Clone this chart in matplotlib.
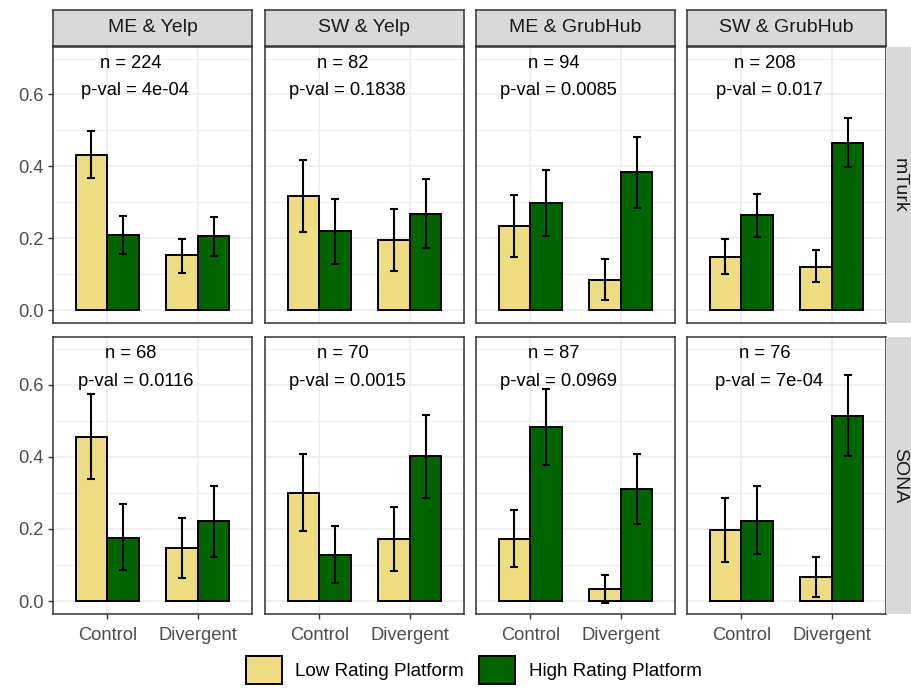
import matplotlib
matplotlib.use("Agg")
import matplotlib.pyplot as plt
from matplotlib.patches import Patch
import numpy as np

plt.rcParams['font.family'] = ['Liberation Sans', 'DejaVu Sans']

facets = ["ME & Yelp", "SW & Yelp", "ME & GrubHub", "SW & GrubHub"]
samples = ["mTurk", "SONA"]
conditions = ["Control", "Divergent"]
series = ["Low Rating Platform", "High Rating Platform"]

n_mturk = [224, 82, 94, 208]
p_mturk = ["4e-04", "0.1838", "0.0085", "0.017"]
n_sona = [68, 70, 87, 76]
p_sona = ["0.0116", "0.0015", "0.0969", "7e-04"]

# mTurk: per facet [Control, Divergent]
mturk_low = [[0.432, 0.152], [0.317, 0.196], [0.234, 0.085], [0.149, 0.120]]
mturk_low_lo = [[0.367, 0.104], [0.217, 0.110], [0.149, 0.029], [0.101, 0.077]]
mturk_low_hi = [[0.497, 0.198], [0.418, 0.281], [0.320, 0.143], [0.198, 0.166]]
mturk_high = [[0.209, 0.206], [0.220, 0.268], [0.298, 0.383], [0.265, 0.466]]
mturk_high_lo = [[0.156, 0.151], [0.129, 0.172], [0.205, 0.284], [0.204, 0.398]]
mturk_high_hi = [[0.263, 0.259], [0.309, 0.364], [0.390, 0.481], [0.324, 0.534]]

# SONA
sona_low = [[0.455, 0.147], [0.300, 0.172], [0.172, 0.033], [0.198, 0.066]]
sona_low_lo = [[0.338, 0.063], [0.193, 0.083], [0.093, -0.005], [0.108, 0.010]]
sona_low_hi = [[0.574, 0.231], [0.408, 0.260], [0.251, 0.073], [0.287, 0.122]]
sona_high = [[0.176, 0.221], [0.128, 0.401], [0.483, 0.311], [0.223, 0.514]]
sona_high_lo = [[0.086, 0.121], [0.049, 0.285], [0.377, 0.213], [0.129, 0.401]]
sona_high_hi = [[0.268, 0.320], [0.208, 0.515], [0.589, 0.408], [0.319, 0.627]]

colors = ["#EEDC82", "#006400"]

W, H = 911, 689
fig = plt.figure(figsize=(W / 100, H / 100), dpi=100)

col_x = [53, 265, 476, 687]
col_w = 199
row_y = [(47, 323), (337, 614)]
FS = 13.2
FS_STRIP = 14.0
FS_LEG = 13.6

rows_data = [
    (n_mturk, p_mturk, [(mturk_low, mturk_low_lo, mturk_low_hi), (mturk_high, mturk_high_lo, mturk_high_hi)]),
    (n_sona, p_sona, [(sona_low, sona_low_lo, sona_low_hi), (sona_high, sona_high_lo, sona_high_hi)]),
]

def fig_rect(x0, y0, x1, y1):
    return [x0 / W, 1 - y1 / H, (x1 - x0) / W, (y1 - y0) / H]

bar_w = 0.35
xpos = np.arange(1, len(conditions) + 1)

for r, (ns, ps, sdata) in enumerate(rows_data):
    y0, y1 = row_y[r]
    for c in range(len(facets)):
        ax = fig.add_axes(fig_rect(col_x[c], y0, col_x[c] + col_w, y1))
        ax.set_xlim(0.4, 2.6)
        ax.set_ylim(-0.036, 0.732)
        ax.set_yticks([0.0, 0.2, 0.4, 0.6])
        ax.set_yticks([0.1, 0.3, 0.5, 0.7], minor=True)
        ax.set_xticks(xpos)
        ax.grid(True, which='major', color='#EBEBEB', lw=1.1, zorder=0)
        ax.grid(True, which='minor', axis='y', color='#EBEBEB', lw=0.6, zorder=0)
        ax.set_axisbelow(True)
        for sp in ax.spines.values():
            sp.set_color('#333333')
            sp.set_linewidth(1.1)
        for s, (means, lo, hi) in enumerate(sdata):
            off = (s - 0.5) * bar_w
            m = np.array(means[c])
            l = np.array(lo[c])
            h = np.array(hi[c])
            ax.bar(xpos + off, m, width=bar_w, color=colors[s], edgecolor='black',
                   linewidth=1.4, zorder=2)
            ax.errorbar(xpos + off, m, yerr=[m - l, h - m], fmt='none', ecolor='black',
                        elinewidth=1.5, capsize=3.2, capthick=1.5, zorder=3)
        ax.text(1.255, 0.685, f"n = {ns[c]}", ha='center', va='center', fontsize=FS, color='black')
        ax.text(1.31, 0.61, f"p-val = {ps[c]}", ha='center', va='center', fontsize=FS, color='black')
        ax.tick_params(axis='both', which='both', colors='#333333', labelcolor='#4D4D4D',
                       labelsize=FS, length=3.5, width=1)
        ax.tick_params(axis='y', which='minor', length=0)
        if c == 0:
            ax.set_yticklabels(["0.0", "0.2", "0.4", "0.6"])
        else:
            ax.tick_params(axis='y', which='major', length=0, labelleft=False)
        if r == 1:
            ax.set_xticklabels(conditions)
            ax.tick_params(axis='x', pad=5.5)
        else:
            ax.tick_params(axis='x', length=0, labelbottom=False)

        if r == 0:
            sax = fig.add_axes(fig_rect(col_x[c], 10, col_x[c] + col_w, 46))
            sax.set_facecolor('#D9D9D9')
            sax.set_xticks([]); sax.set_yticks([])
            for sp in sax.spines.values():
                sp.set_color('#333333'); sp.set_linewidth(1.1)
            sax.text(0.5, 0.5, facets[c], ha='center', va='center', fontsize=FS_STRIP,
                     color='#1A1A1A', transform=sax.transAxes)
    rax = fig.add_axes(fig_rect(886, y0, 913, y1))
    rax.set_facecolor('#D9D9D9')
    rax.set_xticks([]); rax.set_yticks([])
    for sp in rax.spines.values():
        sp.set_visible(False)
    rax.text(0.5, 0.5, samples[r], ha='center', va='center', rotation=-90, fontsize=FS_STRIP,
             color='#1A1A1A', transform=rax.transAxes)

handles = [Patch(facecolor=colors[i], edgecolor='black', linewidth=1.4, label=series[i])
           for i in range(2)]
fig.legend(handles=handles, loc='center', bbox_to_anchor=(0.520, 0.027), ncol=2,
           frameon=False, fontsize=FS_LEG, handlelength=1.9, handleheight=1.9,
           handletextpad=0.72, columnspacing=0.8, borderpad=0.1)

fig.savefig("out.png", dpi=100)
